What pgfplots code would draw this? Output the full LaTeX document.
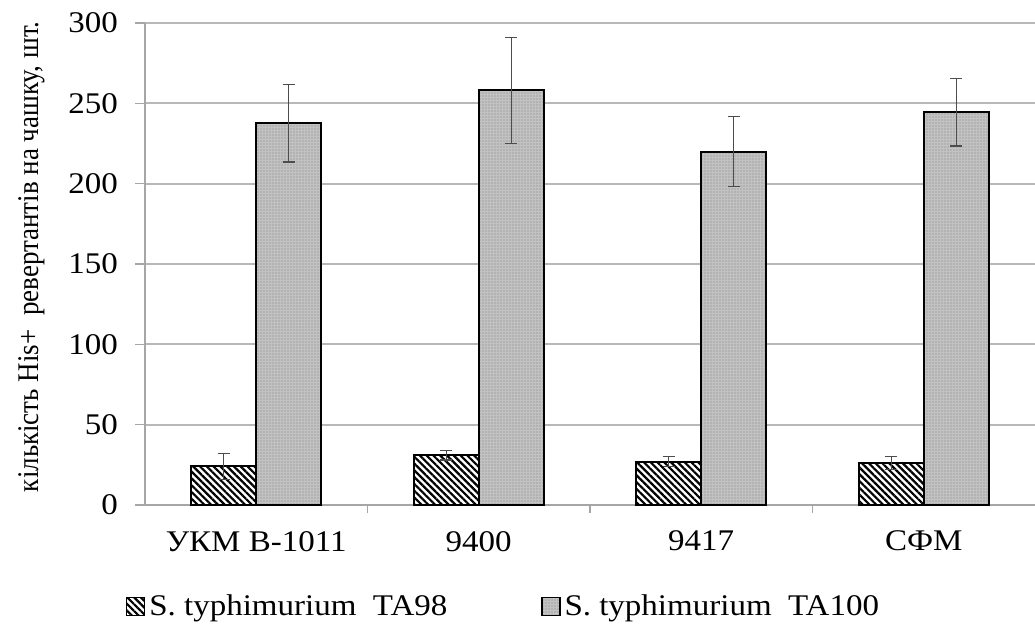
\documentclass[border=0pt]{standalone}
\usepackage{fontspec}
\setmainfont{Liberation Serif}[FakeStretch=1.1]
\newfontfamily\ylabfont{Liberation Serif}[FakeStretch=0.9]
\usepackage{pgfplots}
\pgfplotsset{compat=1.18}
\usetikzlibrary{patterns.meta}
\begin{document}
\begin{tikzpicture}
\path[use as bounding box] (-72.5pt,-64pt) rectangle (445pt,252.5pt);
\begin{axis}[
  at={(0pt,0pt)}, anchor=south west,
  scale only axis, width=445pt, height=241pt,
  xmin=-0.5, xmax=3.5, ymin=0, ymax=300,
  ybar=0pt, bar width=32.5pt,
  axis lines*=left,
  axis line style={draw=black!35, line width=0.8pt},
  /pgf/number format/assume math mode=true,
  ytick={0,50,...,300},
  ymajorgrids, grid style={black!28, line width=0.9pt},
  tick align=outside, major tick length=5pt,
  ytick style={draw=black!35, line width=0.8pt},
  yticklabel style={font=\fontsize{15}{18}\selectfont, xshift=-5pt},
  xtick={0,1,2,3},
  xticklabels={УКМ В-1011, 9400, 9417, СФМ},
  xtick style={draw=none},
  xticklabel style={font=\fontsize{15}{18}\selectfont, yshift=-4.5pt},
  extra x ticks={0.5,1.5,2.5},
  extra x tick labels={},
  extra x tick style={xtick style={draw=black!35, line width=0.8pt}, major tick length=4pt, grid=none},
  ylabel={кількість His+\ \ ревертантів на чашку, шт.},
  ylabel style={font=\ylabfont\fontsize{15}{18}\selectfont, at={(axis description cs:-0.127,0.515)}, anchor=center},
  legend style={at={(axis description cs:0.404,-0.21)}, anchor=center, draw=none,
    font=\fontsize{15}{18}\selectfont, legend columns=2,
    /tikz/every even column/.append style={column sep=45pt}},
  legend cell align=left,
  legend image code/.code={\draw[#1, line width=0.6pt] (0pt,-4.5pt) rectangle (9pt,4.5pt);},
]
\addplot[draw=black, line width=1pt, fill=white,
  postaction={pattern={Lines[angle=-45,distance=2.4pt,line width=1.1pt]}, pattern color=black},
  error bars/.cd, y dir=both, y explicit,
  error bar style={black!70, line width=0.6pt},
  error mark options={rotate=90, mark size=3pt, black!70, line width=0.6pt}]
  coordinates {(0,24) +- (0,8) (1,31) +- (0,3) (2,27) +- (0,3) (3,26) +- (0,4)};
\addplot[draw=black, line width=1pt, fill=black!24,
  postaction={pattern={Dots[distance=1.5pt,radius=0.35pt]}, pattern color=black!50},
  error bars/.cd, y dir=both, y explicit,
  error bar style={black!70, line width=0.6pt},
  error mark options={rotate=90, mark size=3pt, black!70, line width=0.6pt}]
  coordinates {(0,237.5) +- (0,24) (1,258) +- (0,33) (2,220) +- (0,22) (3,244.5) +- (0,21)};
\legend{S. typhimurium\ \ TA98, S. typhimurium\ \ TA100}
\end{axis}
\end{tikzpicture}
\end{document}
